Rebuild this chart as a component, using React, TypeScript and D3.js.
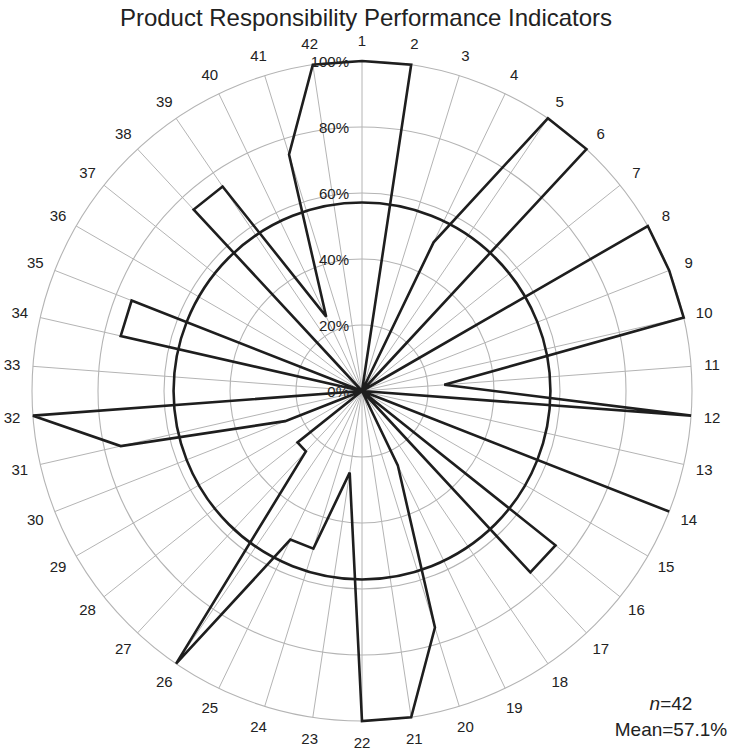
import React from "react";
import * as d3 from "d3";

const chartTitle = "Product Responsibility Performance Indicators";
const categories = [
  "1", "2", "3", "4", "5", "6", "7", "8", "9", "10",
  "11", "12", "13", "14", "15", "16", "17", "18", "19", "20",
  "21", "22", "23", "24", "25", "26", "27", "28", "29", "30",
  "31", "32", "33", "34", "35", "36", "37", "38", "39", "40",
  "41", "42",
];
const scores = [
  100, 100, 0, 50, 100, 100, 0, 100, 100, 100,
  25, 100, 0, 100, 0, 75, 75, 0, 25, 75,
  100, 100, 25, 50, 50, 100, 25, 25, 0, 25,
  75, 100, 0, 75, 75, 0, 0, 75, 75, 25,
  75, 100,
];
const gridTicks = [0, 20, 40, 60, 80, 100];
const meanValue = 57.1;
const nCount = 42;

const W = 732;
const H = 753;
const cx = 362;
const cy = 391;
const R = 330;

export default function App() {
  const rScale = d3.scaleLinear().domain([0, 100]).range([0, R]);
  const angle = d3
    .scaleLinear()
    .domain([0, categories.length])
    .range([0, 2 * Math.PI]);

  const radar = d3
    .lineRadial<number>()
    .angle((_, i) => angle(i))
    .radius((d) => rScale(d))
    .curve(d3.curveLinearClosed);

  const font = "'Liberation Sans', Arial, Helvetica, sans-serif";

  return (
    <svg
      width={W}
      height={H}
      style={{ position: "absolute", left: 0, top: 0, background: "#fff" }}
      fontFamily={font}
    >
      <rect x={0} y={0} width={W} height={H} fill="#fff" />
      <text x={366} y={26} textAnchor="middle" fontSize={24} fill="#222">
        {chartTitle}
      </text>
      <g transform={`translate(${cx},${cy})`}>
        {gridTicks
          .filter((t) => t > 0)
          .map((t) => (
            <circle
              key={"c" + t}
              r={rScale(t)}
              fill="none"
              stroke="#b4b4b4"
              strokeWidth={1.1}
            />
          ))}
        {categories.map((c, i) => {
          const a = angle(i);
          return (
            <line
              key={"s" + c}
              x1={0}
              y1={0}
              x2={R * Math.sin(a)}
              y2={-R * Math.cos(a)}
              stroke="#b4b4b4"
              strokeWidth={1}
            />
          );
        })}
        <circle
          r={rScale(meanValue)}
          fill="none"
          stroke="#1e1e1e"
          strokeWidth={2.6}
        />
        <path
          d={radar(scores) || ""}
          fill="none"
          stroke="#1e1e1e"
          strokeWidth={2.6}
          strokeLinejoin="miter"
        />
        {gridTicks.map((t) => (
          <text
            key={"t" + t}
            x={-13}
            y={-rScale(t)}
            textAnchor="end"
            dominantBaseline="central"
            fontSize={15}
            fill="#222"
          >
            {t + "%"}
          </text>
        ))}
        {categories.map((c, i) => {
          const a = angle(i);
          const lr = R + 21;
          return (
            <text
              key={"l" + c}
              x={lr * Math.sin(a)}
              y={-lr * Math.cos(a)}
              textAnchor="middle"
              dominantBaseline="central"
              fontSize={15}
              fill="#222"
            >
              {c}
            </text>
          );
        })}
      </g>
      <text x={671} y={710} textAnchor="middle" fontSize={19} fill="#222">
        <tspan fontStyle="italic">n</tspan>
        {"=" + nCount}
      </text>
      <text x={671} y={736} textAnchor="middle" fontSize={19} fill="#222">
        {"Mean=" + meanValue + "%"}
      </text>
    </svg>
  );
}
